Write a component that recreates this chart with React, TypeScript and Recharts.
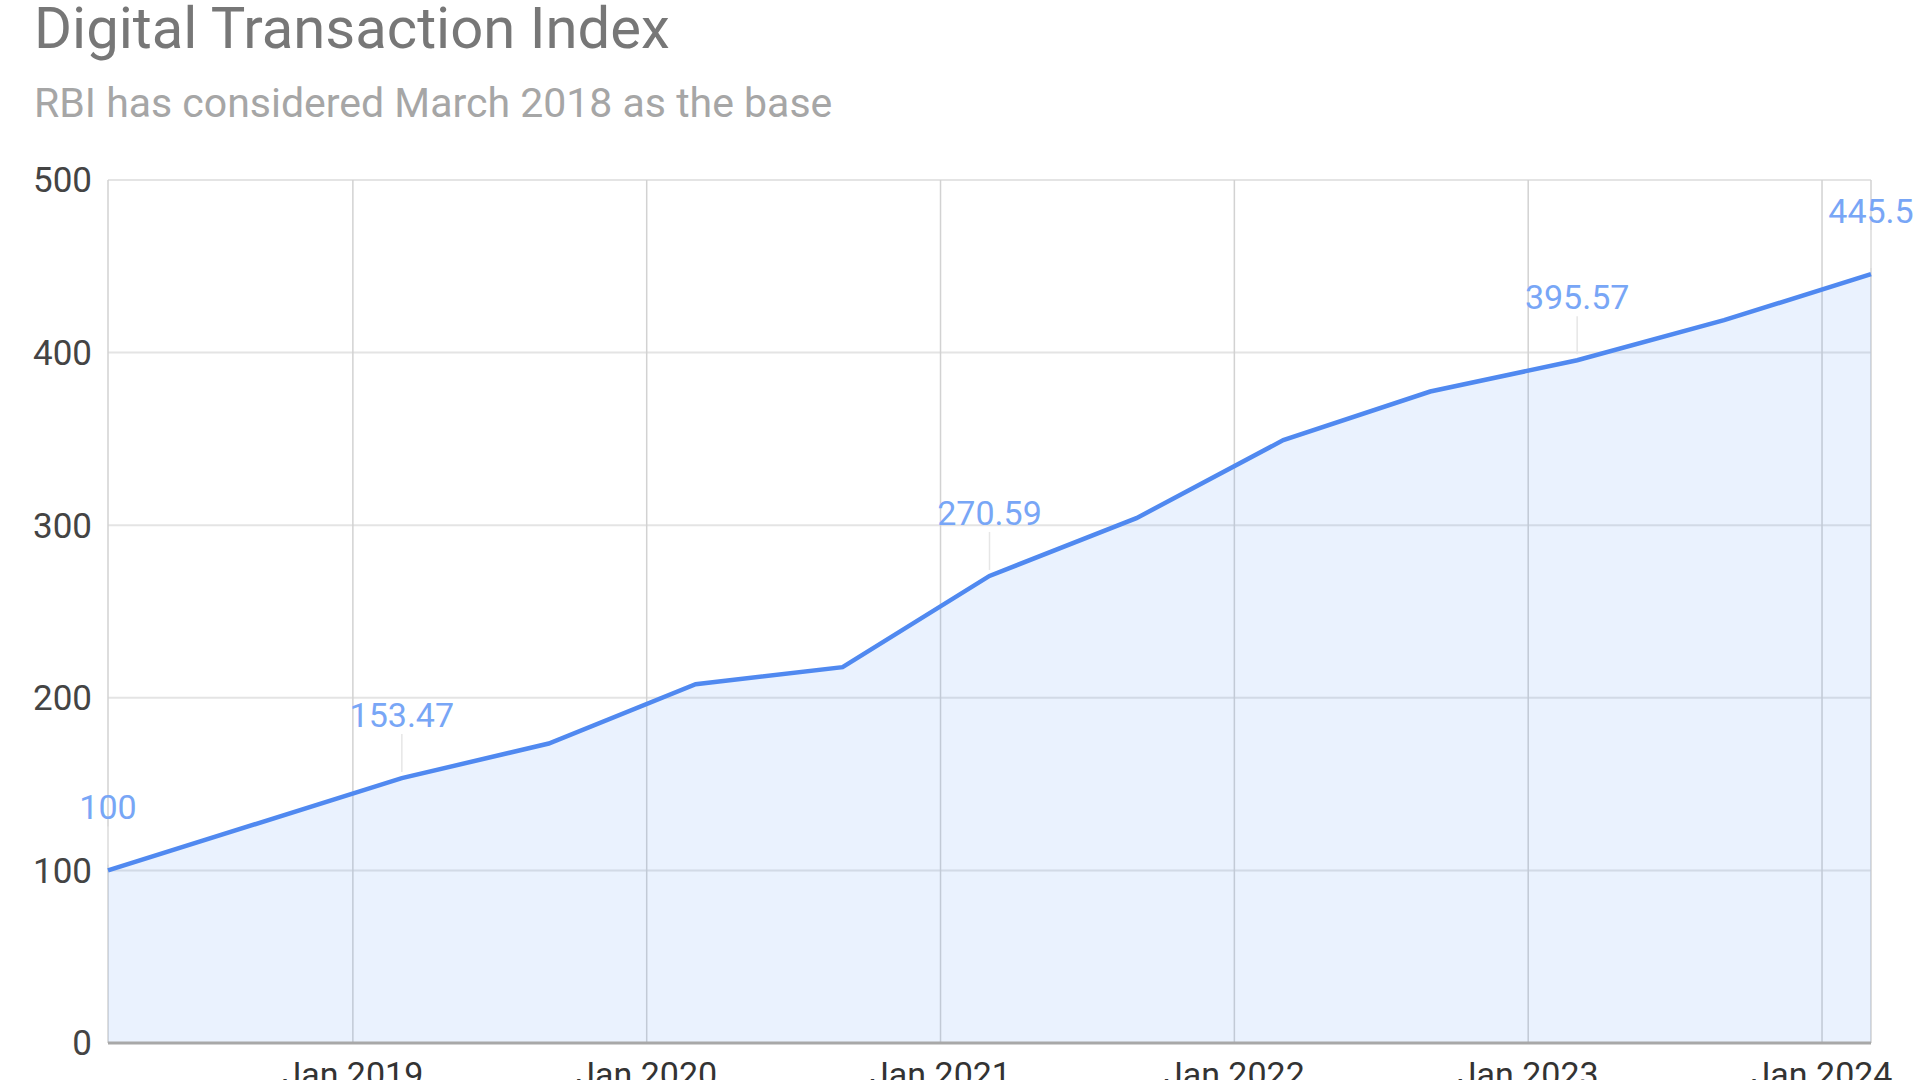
import { AreaChart, Area, XAxis, YAxis, CartesianGrid, LabelList } from "recharts";

const PERIODS = [
  "Mar 2018", "Mar 2019", "Sep 2019", "Mar 2020", "Sep 2020", "Mar 2021",
  "Sep 2021", "Mar 2022", "Sep 2022", "Mar 2023", "Sep 2023", "Mar 2024",
];
const DPI_VALUES = [100, 153.47, 173.49, 207.84, 217.74, 270.59, 304.06, 349.3, 377.46, 395.57, 418.77, 445.5];
const LABELED_PERIODS = ["Mar 2018", "Mar 2019", "Mar 2021", "Mar 2023", "Mar 2024"];
const YEAR_TICKS = [2019, 2020, 2021, 2022, 2023, 2024];
const Y_TICKS = [0, 100, 200, 300, 400, 500];

const MONTHS = ["Jan", "Feb", "Mar", "Apr", "May", "Jun", "Jul", "Aug", "Sep", "Oct", "Nov", "Dec"];
const BASE_YEAR = 2018;

// months counted from Jan 2018
function monthIndex(period: string) {
  const [m, y] = period.split(" ");
  return (Number(y) - BASE_YEAR) * 12 + MONTHS.indexOf(m);
}

const data = PERIODS.map((p, i) => ({ period: p, t: monthIndex(p), value: DPI_VALUES[i] }));
const xTicks = YEAR_TICKS.map((y) => (y - BASE_YEAR) * 12);

const FONT = "Roboto, Arial, sans-serif";
const LINE = "#5089f0";

const PointLabel = (props: any) => {
  const { x, y, value, index } = props;
  if (!LABELED_PERIODS.includes(PERIODS[index])) return null;
  return (
    <g>
      <line x1={x} x2={x} y1={y - 44} y2={y - 6} stroke="#e6e6e6" strokeWidth={1.5} />
      <text x={x} y={y - 51} textAnchor="middle" fill="#78a6f6" fontSize={34} fontFamily={FONT}>
        {value}
      </text>
    </g>
  );
};

export default function App() {
  return (
    <div
      style={{
        position: "fixed",
        left: 0,
        top: 0,
        width: 1920,
        height: 1080,
        background: "#fff",
        overflow: "hidden",
      }}
    >
      <svg width={1920} height={140} style={{ position: "absolute", left: 0, top: 0 }}>
        <text x={34} y={48} fontSize={58} fill="#777" fontFamily={FONT}>
          Digital Transaction Index
        </text>
        <text x={34} y={117} fontSize={41} fill="#a6a6a6" fontFamily={FONT}>
          RBI has considered March 2018 as the base
        </text>
      </svg>
      <div style={{ position: "absolute", left: 0, top: 0 }}>
        <AreaChart width={1920} height={1080} data={data} margin={{ top: 180, right: 49, left: 0, bottom: 0 }}>
          <CartesianGrid vertical={false} stroke="#e4e4e4" strokeWidth={2} />
          <CartesianGrid horizontal={false} stroke="#d2d2d2" strokeWidth={1.5} />
          <XAxis
            dataKey="t"
            type="number"
            domain={[2, 74]}
            ticks={xTicks}
            tickFormatter={(v: number) => `Jan ${BASE_YEAR + v / 12}`}
            height={37}
            tickSize={0}
            tickMargin={19}
            axisLine={{ stroke: "#a8a8a8", strokeWidth: 3 }}
            tick={{ fill: "#333", fontSize: 34, fontFamily: FONT }}
          />
          <YAxis
            domain={[0, 500]}
            ticks={Y_TICKS}
            width={108}
            tickSize={0}
            tickMargin={16}
            axisLine={false}
            tick={{ fill: "#444", fontSize: 35, fontFamily: FONT }}
          />
          <Area
            type="linear"
            dataKey="value"
            stroke={LINE}
            strokeWidth={4.5}
            fill="#4285f4"
            fillOpacity={0.11}
            dot={false}
            activeDot={false}
            isAnimationActive={false}
          >
            <LabelList dataKey="value" content={<PointLabel />} />
          </Area>
        </AreaChart>
      </div>
    </div>
  );
}
